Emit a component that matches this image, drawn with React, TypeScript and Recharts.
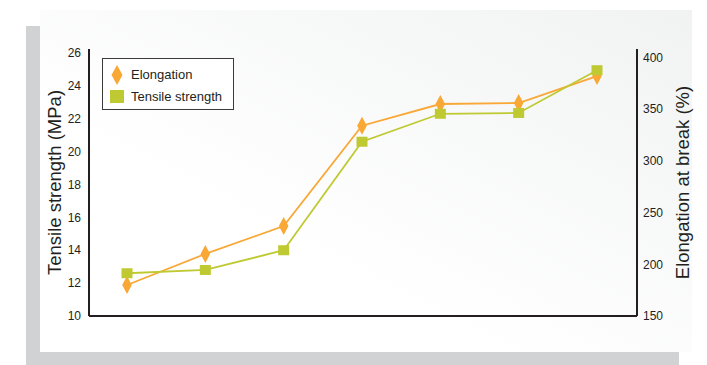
import React from 'react';
import { ComposedChart, Line, XAxis, YAxis } from 'recharts';

const samples = ['1', '2', '3', '4', '5', '6', '7'];
const tensileStrength = [12.6, 12.8, 14.0, 20.6, 22.3, 22.35, 24.95];
const elongation = [180, 210, 237, 334, 355, 356, 382];
const leftTicks = [10, 12, 14, 16, 18, 20, 22, 24, 26];
const rightTicks = [150, 200, 250, 300, 350, 400];

const ORANGE = '#F9A735';
const GREEN = '#BFC931';
const AXIS = '#231F20';
const FONT = '"Liberation Sans", Arial, sans-serif';

const data = samples.map((s, i) => ({
  sample: s,
  tensile: tensileStrength[i],
  elongation: elongation[i],
}));

const Diamond = (props: any) => {
  const { cx, cy } = props;
  if (cx == null || cy == null) return null;
  return (
    <polygon
      points={`${cx},${cy - 9} ${cx + 4.8},${cy} ${cx},${cy + 9} ${cx - 4.8},${cy}`}
      fill={ORANGE}
    />
  );
};

const Square = (props: any) => {
  const { cx, cy } = props;
  if (cx == null || cy == null) return null;
  return <rect x={cx - 5.5} y={cy - 5} width={11} height={10} fill={GREEN} />;
};

const LegendBox = () => (
  <div
    style={{
      position: 'absolute',
      left: 102,
      top: 58,
      width: 132,
      height: 52,
      border: '1px solid #3a3a3a',
      background: '#fff',
      boxSizing: 'border-box',
      fontFamily: FONT,
      fontSize: 13,
      color: '#231F20',
    }}
  >
    <svg width={20} height={50} style={{ position: 'absolute', left: 4, top: 0 }}>
      <polygon points="10,6 15.5,16 10,26 4.5,16" fill={ORANGE} />
      <rect x={3} y={31} width={14} height={13} fill={GREEN} />
    </svg>
    <div style={{ position: 'absolute', left: 28, top: 8 }}>Elongation</div>
    <div style={{ position: 'absolute', left: 28, top: 30 }}>Tensile strength</div>
  </div>
);

export default function App() {
  return (
    <div style={{ position: 'absolute', left: 0, top: 0, width: 707, height: 365, background: '#fff' }}>
      <div style={{ position: 'absolute', left: 26, top: 26, width: 653, height: 339, background: '#D1D2D4' }} />
      <div
        style={{
          position: 'absolute',
          left: 40,
          top: 10,
          width: 652,
          height: 342,
          background: 'linear-gradient(to top right, #ffffff 35%, #f1f2f2 100%)',
        }}
      />
      <div style={{ position: 'absolute', left: 0, top: 0 }}>
        <ComposedChart
          width={707}
          height={365}
          data={data}
          margin={{ top: 49, right: 10, bottom: 47, left: 0 }}
          style={{ fontFamily: FONT }}
        >
          <XAxis
            dataKey="sample"
            tick={false}
            tickLine={false}
            height={2}
            padding={{ left: 38, right: 40 }}
            axisLine={{ stroke: AXIS, strokeWidth: 2 }}
          />
          <YAxis
            yAxisId="left"
            width={89}
            domain={[10, 26.24]}
            ticks={leftTicks}
            interval={0}
            tickLine={false}
            tickSize={6}
            tickMargin={2}
            axisLine={{ stroke: AXIS, strokeWidth: 2 }}
            tick={{ fontSize: 12, fill: '#231F20' }}
            label={{
              value: 'Tensile strength (MPa)',
              angle: -90,
              position: 'insideLeft',
              offset: 54,
              style: { fontSize: 18.5, fill: '#231F20', textAnchor: 'middle' },
            }}
          />
          <YAxis
            yAxisId="right"
            orientation="right"
            width={60}
            domain={[150, 408.2]}
            ticks={rightTicks}
            interval={0}
            tickLine={false}
            tickSize={6}
            tickMargin={0}
            axisLine={{ stroke: AXIS, strokeWidth: 2 }}
            tick={{ fontSize: 12, fill: '#231F20' }}
            label={{
              value: 'Elongation at break (%)',
              angle: -90,
              position: 'insideRight',
              offset: 15,
              style: { fontSize: 18.5, fill: '#231F20', textAnchor: 'middle' },
            }}
          />
          <Line
            yAxisId="right"
            dataKey="elongation"
            name="Elongation"
            type="linear"
            stroke={ORANGE}
            strokeWidth={1.8}
            dot={<Diamond />}
            activeDot={false}
            isAnimationActive={false}
          />
          <Line
            yAxisId="left"
            dataKey="tensile"
            name="Tensile strength"
            type="linear"
            stroke={GREEN}
            strokeWidth={1.8}
            dot={<Square />}
            activeDot={false}
            isAnimationActive={false}
          />
        </ComposedChart>
      </div>
      <LegendBox />
    </div>
  );
}
